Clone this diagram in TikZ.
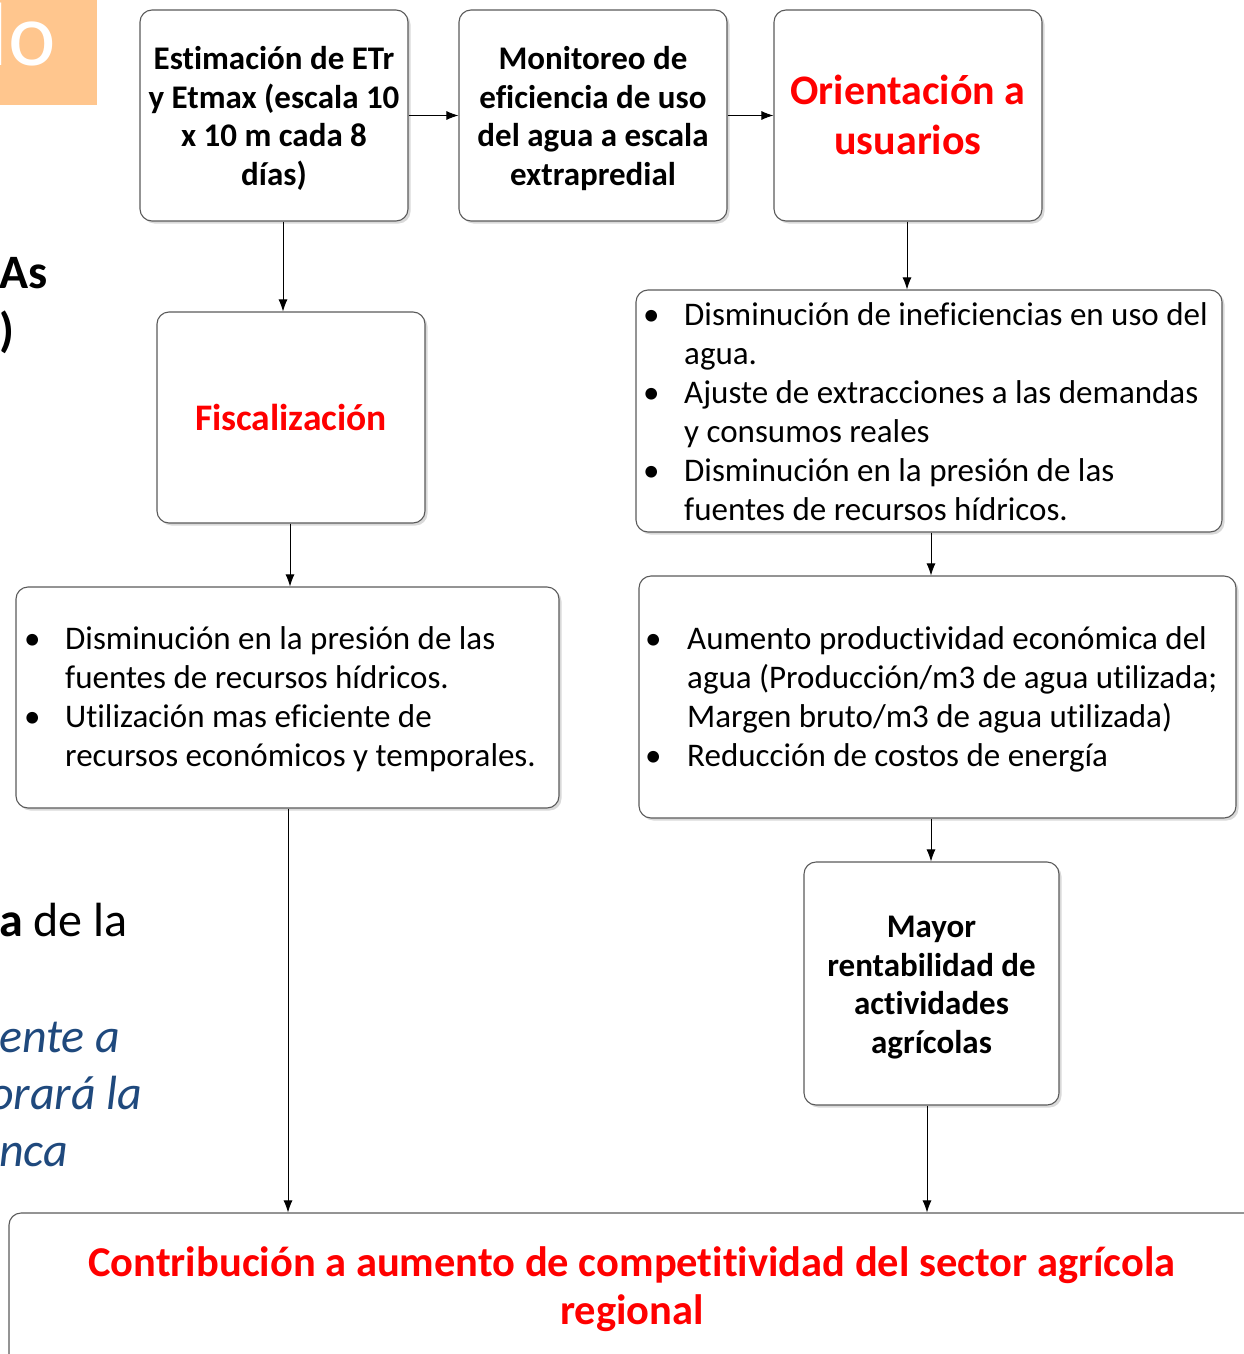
\documentclass[tikz,border=0pt]{standalone}
\usepackage{fontspec}
\setmainfont{Carlito}[Ligatures=NoCommon]
\usetikzlibrary{arrows.meta,shadows}
\definecolor{brdr}{HTML}{5A5A5A}
\definecolor{redtxt}{HTML}{FF0000}
\definecolor{orangebg}{HTML}{FFC68E}
\definecolor{bluetxt}{HTML}{1F497D}
\begin{document}
\begin{tikzpicture}[x=1pt,y=-1pt,
  box/.style={draw=brdr, line width=1.1pt, rounded corners=12pt, fill=white,
    drop shadow={shadow xshift=2.5pt, shadow yshift=-2.5pt, fill=black!25, opacity=0.6},
    inner sep=0pt},
  bt/.style={font={\fontsize{33}{38.7}\selectfont\bfseries}, inner sep=0pt, align=center},
  rt/.style={font={\fontsize{42}{50}\selectfont\bfseries}, text=redtxt, inner sep=0pt, align=center},
  lt/.style={font={\fontsize{33}{39}\selectfont}, inner sep=0pt, anchor=north west},
  frag/.style={font={\fontsize{48}{56}\selectfont}, inner sep=0pt, anchor=base west},
  conn/.style={-{Latex[length=12pt,width=9pt]}, line width=0.9pt}
]
\useasboundingbox (0,0) rectangle (1244,1354);
\clip (0,0) rectangle (1244,1354);

% left fragments of the slide
\node[fill=orangebg, minimum width=107pt, minimum height=105pt, inner sep=0pt] (ob) at (43.5,52.5) {};
\node[font={\fontsize{90}{100}\selectfont}, text=white, inner sep=0pt, anchor=base east] (olo) at (56,66) {lo};
\node[frag, font={\fontsize{48}{56}\selectfont\bfseries}] (fas) at (-1,288) {As};
\node[frag, font={\fontsize{48}{56}\selectfont\bfseries}] (fpar) at (-1,346) {)};
\node[frag] (fdela) at (-1,936) {\textbf{a} de la};
\node[frag, font={\fontsize{48}{56}\selectfont\itshape}, text=bluetxt] (fente) at (-1,1052) {ente a};
\node[frag, font={\fontsize{48}{56}\selectfont\itshape}, text=bluetxt] (fora) at (-11,1109) {orará la};
\node[frag, font={\fontsize{48}{56}\selectfont\itshape}, text=bluetxt] (fnca) at (-1,1166) {nca};

% boxes
\node[box, minimum width=268pt, minimum height=211pt] (b1) at (274,115.5) {};
\node[box, minimum width=268pt, minimum height=211pt] (b2) at (593,115.5) {};
\node[box, minimum width=268pt, minimum height=211pt] (b3) at (908,115.5) {};
\node[box, minimum width=268pt, minimum height=211pt] (fis) at (291,417.5) {};
\node[box, minimum width=586pt, minimum height=242pt] (l1) at (929,411) {};
\node[box, minimum width=543pt, minimum height=221pt] (ll) at (287.5,697.5) {};
\node[box, minimum width=597pt, minimum height=242pt] (l2) at (937.5,697) {};
\node[box, minimum width=255pt, minimum height=243pt] (may) at (931.5,983.5) {};
\node[box, minimum width=1291pt, minimum height=207pt] (bot) at (654.5,1316.5) {};

% box texts
\node[bt] (b1t) at (274,118.5) {Estimación de ETr\\y Etmax (escala 10\\x 10 m cada 8\\días)};
\node[bt] (b2t) at (593,118.5) {Monitoreo de\\eficiencia de uso\\del agua a escala\\extrapredial};
\node[rt] (b3t) at (908,114.5) {Orientación a\\usuarios};
\node[rt, font={\fontsize{37.5}{44}\selectfont\bfseries}] (fist) at (291,417.5) {Fiscalización};
\node[bt] (mayt) at (931.5,987.5) {Mayor\\rentabilidad de\\actividades\\agrícolas};
\node[rt, font={\fontsize{42.5}{48.5}\selectfont\bfseries}] (bottxt) at (632,1289)
  {Contribución a aumento de competitividad del sector agrícola\\regional};

% list texts
\node[lt] (l1t) at (643,298) {\begin{tabular}{@{}l@{}l@{}}
\makebox[41pt][l]{•} & Disminución de ineficiencias en uso del\\
 & agua.\\
\makebox[41pt][l]{•} & Ajuste de extracciones a las demandas\\
 & y consumos reales\\
\makebox[41pt][l]{•} & Disminución en la presión de las\\
 & fuentes de recursos hídricos.
\end{tabular}};
\node[lt] (llt) at (24,622) {\begin{tabular}{@{}l@{}l@{}}
\makebox[41pt][l]{•} & Disminución en la presión de las\\
 & fuentes de recursos hídricos.\\
\makebox[41pt][l]{•} & Utilización mas eficiente de\\
 & recursos económicos y temporales.
\end{tabular}};
\node[lt] (l2t) at (645,622) {\begin{tabular}{@{}l@{}l@{}}
\makebox[42pt][l]{•} & Aumento productividad económica del\\
 & agua (Producción/m3 de agua utilizada;\\
 & Margen bruto/m3 de agua utilizada)\\
\makebox[42pt][l]{•} & Reducción de costos de energía
\end{tabular}};

% connector x positions
\coordinate (xa) at (283,0);
\coordinate (xb) at (907,0);
\coordinate (xc) at (290,0);
\coordinate (xd) at (931,0);
\coordinate (xe) at (288,0);
\coordinate (xf) at (927,0);

\draw[conn] (b1) -- (b2);
\draw[conn] (b2) -- (b3);
\draw[conn] (b1.south -| xa) -- (fis.north -| xa);
\draw[conn] (b3.south -| xb) -- (l1.north -| xb);
\draw[conn] (fis.south -| xc) -- (ll.north -| xc);
\draw[conn] (l1.south -| xd) -- (l2.north -| xd);
\draw[conn] (l2.south -| xd) -- (may.north -| xd);
\draw[conn] (ll.south -| xe) -- (bot.north -| xe);
\draw[conn] (may.south -| xf) -- (bot.north -| xf);
\end{tikzpicture}
\end{document}
